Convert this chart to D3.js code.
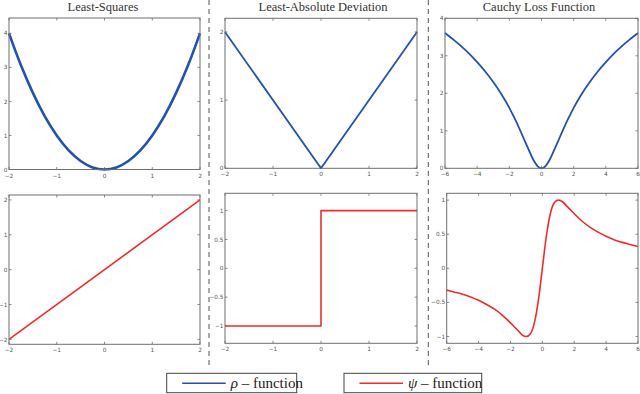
<!DOCTYPE html>
<html>
<head>
<meta charset="utf-8">
<script src="https://cdn.jsdelivr.net/npm/d3@7"></script>
<style>
  body { margin: 0; background: #fff; }
  svg { display: block; }
  .frame { fill: none; stroke: #6e6e6e; stroke-width: 1; }
  .tick-label { font-family: "DejaVu Sans", sans-serif; font-size: 5.8px; fill: #555; }
  .title { font-family: "Liberation Serif", "DejaVu Serif", serif; font-size: 12.5px; fill: #333; }
  .legend-text { font-family: "Liberation Serif", serif; font-size: 15px; fill: #222; }
</style>
</head>
<body>
<div id="chart"></div>
<script>
const W = 640, H = 394;

const BLUE = '#2352ab';
const RED = '#ef2b2b';

// least squares
const lsX = [-2, -1.75, -1.5, -1.25, -1, -0.75, -0.5, -0.25, 0, 0.25, 0.5, 0.75, 1, 1.25, 1.5, 1.75, 2];
const lsRho = [4, 3.06, 2.25, 1.56, 1, 0.56, 0.25, 0.06, 0, 0.06, 0.25, 0.56, 1, 1.56, 2.25, 3.06, 4];
const lsPsiX = [-2, 2];
const lsPsi = [-2, 2];

// least absolute deviation
const ladX = [-2, 0, 2];
const ladRho = [2, 0, 2];
const ladPsiX = [-2, 0, 0, 2];
const ladPsi = [-1, -1, 1, 1];

// cauchy
const cX = [-6, -5.5, -5, -4.5, -4, -3.5, -3, -2.5, -2, -1.75, -1.5, -1.25, -1, -0.75, -0.5, -0.25, 0,
            0.25, 0.5, 0.75, 1, 1.25, 1.5, 1.75, 2, 2.5, 3, 3.5, 4, 4.5, 5, 5.5, 6];
const cRho = [3.61, 3.44, 3.26, 3.06, 2.83, 2.58, 2.30, 1.98, 1.61, 1.40, 1.18, 0.94, 0.69, 0.45, 0.22, 0.06, 0,
              0.06, 0.22, 0.45, 0.69, 0.94, 1.18, 1.40, 1.61, 1.98, 2.30, 2.58, 2.83, 3.06, 3.26, 3.44, 3.61];
const cPsi = [-0.32, -0.35, -0.38, -0.42, -0.47, -0.53, -0.60, -0.69, -0.80, -0.86, -0.92, -0.98, -1, -0.96, -0.80, -0.47, 0,
              0.47, 0.80, 0.96, 1, 0.98, 0.92, 0.86, 0.80, 0.69, 0.60, 0.53, 0.47, 0.42, 0.38, 0.35, 0.32];

const titles = ['Least-Squares', 'Least-Absolute Deviation', 'Cauchy Loss Function'];
const ticks2 = [-2, -1, 0, 1, 2];
const ticks6 = [-6, -4, -2, 0, 2, 4, 6];
const legendLabels = [['\u03C1', ' \u2013 function'], ['\u03C8', ' \u2013 function']];

const panels = [
  { box: [9, 18, 200, 169.5], xd: [-2, 2], yd: [0, 4.45], xt: ticks2, yt: [0, 1, 2, 3, 4], x: lsX, y: lsRho, color: BLUE, w: 2.6, curve: d3.curveMonotoneX },
  { box: [225, 18.3, 417, 168.3], xd: [-2, 2], yd: [0, 2.2], xt: ticks2, yt: [0, 1, 2], x: ladX, y: ladRho, color: BLUE, w: 1.8, curve: d3.curveLinear },
  { box: [445, 18.3, 638, 168.3], xd: [-6, 6], yd: [0, 4], xt: ticks6, yt: [0, 1, 2, 3, 4], x: cX, y: cRho, color: BLUE, w: 1.8, curve: d3.curveMonotoneX },
  { box: [9, 195, 200, 344.3], xd: [-2, 2], yd: [-2.14, 2.14], xt: ticks2, yt: [-2, -1, 0, 1, 2], x: lsPsiX, y: lsPsi, color: RED, w: 1.6, curve: d3.curveLinear },
  { box: [225, 193.3, 417, 343.3], xd: [-2, 2], yd: [-1.3, 1.3], xt: ticks2, yt: [-1, -0.5, 0, 0.5, 1], x: ladPsiX, y: ladPsi, color: RED, w: 1.6, curve: d3.curveLinear },
  { box: [446.7, 193.3, 638, 343.3], xd: [-6, 6], yd: [-1.1, 1.1], xt: ticks6, yt: [-1, -0.5, 0, 0.5, 1], x: cX, y: cPsi, color: RED, w: 1.6, curve: d3.curveMonotoneX }
];

const svg = d3.select('#chart').append('svg')
  .attr('width', W).attr('height', H);

const fmt = d => d3.format('')(d);

panels.forEach(p => {
  const [x0, y0, x1, y1] = p.box;
  const xs = d3.scaleLinear().domain(p.xd).range([x0, x1]);
  const ys = d3.scaleLinear().domain(p.yd).range([y1, y0]);
  const g = svg.append('g');

  // ticks (inside, on all four sides)
  const tl = 2.5;
  p.xt.forEach(t => {
    g.append('line').attr('x1', xs(t)).attr('x2', xs(t)).attr('y1', y1).attr('y2', y1 - tl)
      .attr('stroke', '#6e6e6e').attr('stroke-width', 0.8);
    g.append('line').attr('x1', xs(t)).attr('x2', xs(t)).attr('y1', y0).attr('y2', y0 + tl)
      .attr('stroke', '#6e6e6e').attr('stroke-width', 0.8);
    g.append('text').attr('class', 'tick-label')
      .attr('x', xs(t)).attr('y', y1 + 8)
      .attr('text-anchor', 'middle')
      .text(fmt(t));
  });
  p.yt.forEach(t => {
    g.append('line').attr('x1', x0).attr('x2', x0 + tl).attr('y1', ys(t)).attr('y2', ys(t))
      .attr('stroke', '#6e6e6e').attr('stroke-width', 0.8);
    g.append('line').attr('x1', x1).attr('x2', x1 - tl).attr('y1', ys(t)).attr('y2', ys(t))
      .attr('stroke', '#6e6e6e').attr('stroke-width', 0.8);
    g.append('text').attr('class', 'tick-label')
      .attr('x', x0 - 1.5).attr('y', ys(t) + 2.1)
      .attr('text-anchor', 'end')
      .text(fmt(t));
  });

  const pts = p.x.map((v, i) => [v, p.y[i]]);
  const line = d3.line().x(d => xs(d[0])).y(d => ys(d[1])).curve(p.curve);
  g.append('path')
    .attr('d', line(pts))
    .attr('fill', 'none')
    .attr('stroke', p.color)
    .attr('stroke-width', p.w)
    .attr('stroke-linejoin', 'round');

  g.append('rect').attr('class', 'frame')
    .attr('x', x0).attr('y', y0)
    .attr('width', x1 - x0).attr('height', y1 - y0);
});

// titles
const titleX = [103, 323, 539];
titles.forEach((t, i) => {
  svg.append('text').attr('class', 'title')
    .attr('x', titleX[i]).attr('y', 10.5)
    .attr('text-anchor', 'middle')
    .text(t);
});

// dashed separators
[209, 428.3].forEach(x => {
  svg.append('line')
    .attr('x1', x).attr('x2', x).attr('y1', 0).attr('y2', 368)
    .attr('stroke', '#555').attr('stroke-width', 1)
    .attr('stroke-dasharray', '5,4');
});

// legend
const legendBoxes = [[166.7, 373.3, 296.7, 392.7], [344, 373.3, 481.7, 392.7]];
const legendColors = [BLUE, RED];
legendBoxes.forEach((b, i) => {
  const g = svg.append('g');
  g.append('rect')
    .attr('x', b[0]).attr('y', b[1])
    .attr('width', b[2] - b[0]).attr('height', b[3] - b[1])
    .attr('fill', '#fff').attr('stroke', '#444').attr('stroke-width', 1);
  g.append('line')
    .attr('x1', b[0] + 15.5).attr('x2', b[0] + 59)
    .attr('y1', b[1] + 10).attr('y2', b[1] + 10)
    .attr('stroke', legendColors[i]).attr('stroke-width', 1.6);
  const txt = g.append('text').attr('class', 'legend-text')
    .attr('x', b[0] + 64).attr('y', b[1] + 14.5);
  txt.append('tspan').attr('font-style', 'italic').text(legendLabels[i][0]);
  txt.append('tspan').text(legendLabels[i][1]);
});
</script>
</body>
</html>
